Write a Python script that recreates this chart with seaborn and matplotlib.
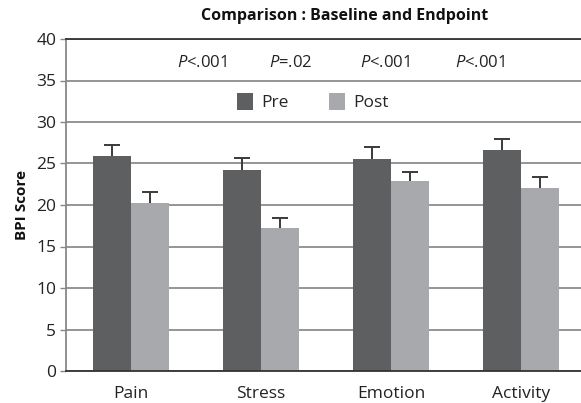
import matplotlib
matplotlib.use("Agg")
import matplotlib.pyplot as plt
import seaborn as sns
import pandas as pd
import numpy as np

categories = ["Pain", "Stress", "Emotion", "Activity"]
groups = ["Pre", "Post"]
pre_values = [25.9, 24.2, 25.6, 26.6]
post_values = [20.2, 17.2, 22.9, 22.1]
pre_err = [1.3, 1.5, 1.4, 1.4]
post_err = [1.4, 1.2, 1.1, 1.3]
p_labels = ["<.001", "=.02", "<.001", "<.001"]
yticks = [0, 5, 10, 15, 20, 25, 30, 35, 40]

sns.set_theme(style="white")
plt.rcParams["font.family"] = ["Open Sans", "DejaVu Sans"]
plt.rcParams["mathtext.fontset"] = "custom"
plt.rcParams["mathtext.it"] = "Open Sans:italic"
plt.rcParams["mathtext.rm"] = "Open Sans"

df = pd.DataFrame({
    "Category": categories * 2,
    "Group": ["Pre"] * 4 + ["Post"] * 4,
    "Score": pre_values + post_values,
    "Err": pre_err + post_err,
})

fig = plt.figure(figsize=(5.81, 4.03), dpi=100)
ax = fig.add_axes([66 / 581, 32 / 403, 520 / 581, 332 / 403])

palette = {"Pre": "#5e5f61", "Post": "#a8a9ac"}
sns.barplot(data=df, x="Category", y="Score", hue="Group", order=categories,
            hue_order=groups, palette=palette, errorbar=None, width=0.58,
            saturation=1, linewidth=0, ax=ax, legend=True)

# error bars (upper only) from the bar geometry
errs = pre_err + post_err
bars = [p for p in ax.patches if p.get_height() > 0][:8]
cap_half = 0.062
for bar, e in zip(bars, errs):
    xc = bar.get_x() + bar.get_width() / 2
    h = bar.get_height()
    ax.plot([xc, xc], [h, h + e], color="#3a3a3a", linewidth=1.4, zorder=3,
            solid_capstyle="butt")
    ax.plot([xc - cap_half, xc + cap_half], [h + e, h + e], color="#3a3a3a",
            linewidth=1.4, zorder=3, solid_capstyle="butt")

ax.set_ylim(0, 40)
ax.set_xlim(-0.5, 3.5)
ax.set_yticks(yticks)
ax.yaxis.grid(True, color="#8c8c8c", linewidth=1.3)
ax.set_axisbelow(True)
ax.spines["right"].set_visible(False)
ax.spines["top"].set_color("#333333")
ax.spines["top"].set_linewidth(1.3)
ax.spines["bottom"].set_color("#333333")
ax.spines["bottom"].set_linewidth(1.3)
ax.spines["left"].set_color("#888888")
ax.spines["left"].set_linewidth(1.3)
ax.tick_params(axis="y", which="both", left=True, length=4, width=1, color="#888888",
               labelsize=12.5, labelcolor="#222222", pad=3)
ax.tick_params(axis="x", bottom=False, labelsize=12.5, labelcolor="#222222", pad=5)
ax.set_xlabel("")
ax.set_ylabel("BPI Score", fontsize=11, fontweight="bold", color="#111111", labelpad=5)

# p-value annotations
p_x = [202, 291, 385, 480]
for px, lab in zip(p_x, p_labels):
    fig.text(px / 581, 1 - 63 / 403, "$\\mathit{P}$" + lab, ha="center", va="center",
             fontsize=12, color="#222222")

fig.text(345 / 581, 1 - 16 / 403, "Comparison : Baseline and Endpoint", ha="center",
         va="center", fontsize=11.5, fontweight="bold", color="#111111")

leg = ax.legend(loc="center", bbox_to_anchor=(313 / 581, 1 - 102 / 403),
                bbox_transform=fig.transFigure, ncol=2, frameon=False,
                fontsize=12.5, handlelength=0.9, handleheight=1.1,
                columnspacing=2.3, handletextpad=0.5)

fig.savefig("out.png", dpi=100)
